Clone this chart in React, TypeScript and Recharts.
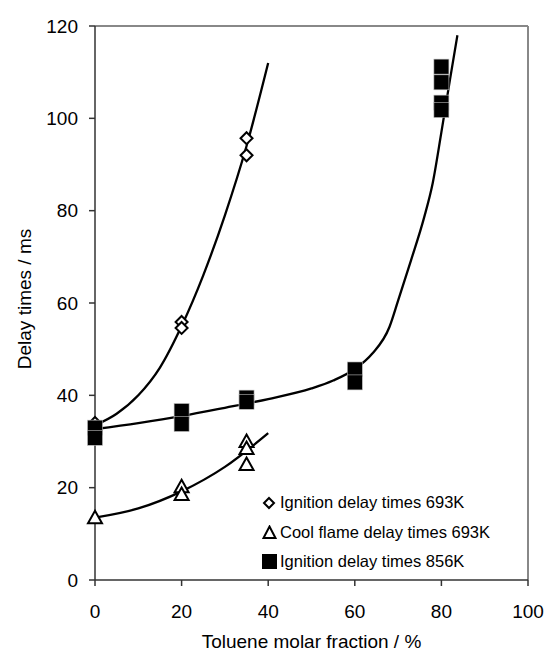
import React from "react";
import { ComposedChart, Line, Scatter, XAxis, YAxis, ReferenceLine, Label } from "recharts";

const xTicks = [0, 20, 40, 60, 80, 100];
const yTicks = [0, 20, 40, 60, 80, 100, 120];

// measured points
const ign693X = [0, 20, 20, 35, 35];
const ign693Y = [34, 55.9, 54.6, 95.7, 92];
const cool693X = [0, 20, 20, 35, 35, 35];
const cool693Y = [13.5, 20.2, 18.5, 30, 28.5, 25];
const ign856X = [0, 0, 20, 20, 35, 35, 60, 60, 80, 80, 80, 80];
const ign856Y = [33, 30.8, 36.6, 33.8, 39.5, 38.6, 45.6, 42.8, 111.2, 107.8, 103.4, 101.8];

// trend curves
const ign693TrendX = [0, 5, 10, 15, 20, 25, 30, 35, 40];
const ign693TrendY = [33.5, 36, 40, 46, 55, 66, 79, 94, 112];
const cool693TrendX = [0, 10, 20, 30, 40];
const cool693TrendY = [13.5, 15.5, 19.2, 24.5, 31.8];
const ign856TrendX = [0, 10, 20, 30, 40, 50, 55, 60, 64, 68, 70, 73, 76, 78, 80, 82, 83.7];
const ign856TrendY = [32.7, 34, 35.5, 37.3, 39.2, 41.5, 43.2, 45.7, 49, 54.8, 60.5, 69.3, 78.5, 86, 97, 108.5, 118];

const legendNames = ["Ignition delay times 693K", "Cool flame delay times 693K", "Ignition delay times 856K"];

const zip = (xs: number[], ys: number[]) => xs.map((x, i) => ({ x, y: ys[i] }));

const FONT = "'Liberation Sans', Arial, sans-serif";

const Diamond = (props: any) => {
  const { cx, cy } = props;
  const r = 6;
  return <path d={`M${cx},${cy - r}L${cx + r},${cy}L${cx},${cy + r}L${cx - r},${cy}Z`} fill="#fff" stroke="#000" strokeWidth={2} />;
};

const Triangle = (props: any) => {
  const { cx, cy } = props;
  return <path d={`M${cx},${cy - 7}L${cx + 7},${cy + 5.5}L${cx - 7},${cy + 5.5}Z`} fill="#fff" stroke="#000" strokeWidth={2} />;
};

const Square = (props: any) => {
  const { cx, cy } = props;
  return <rect x={cx - 7.5} y={cy - 7.5} width={15} height={15} fill="#000" stroke="#bbb" strokeWidth={0.6} />;
};

const legendIcons = [
  <svg width={14} height={14} key="d"><path d="M7,2L12,7L7,12L2,7Z" fill="#fff" stroke="#000" strokeWidth={2} /></svg>,
  <svg width={15} height={15} key="t"><path d="M7.5,1.5L13.5,13L1.5,13Z" fill="#fff" stroke="#000" strokeWidth={2} /></svg>,
  <svg width={15} height={15} key="s"><rect x={0} y={0} width={15} height={15} fill="#000" /></svg>,
];

export default function App() {
  return (
    <div style={{ position: "absolute", left: 0, top: 0, width: 546, height: 652, background: "#fff" }}>
      <ComposedChart width={546} height={652} margin={{ top: 26, right: 18, bottom: 0, left: 0 }}>
        <XAxis
          type="number"
          dataKey="x"
          domain={[0, 100]}
          ticks={xTicks}
          height={72}
          tickSize={6}
          tickMargin={19}
          stroke="#333"
          strokeWidth={1.5}
          tick={{ fill: "#000", fontSize: 19, fontFamily: FONT }}
        >
          <Label value="Toluene molar fraction / %" position="insideBottom" offset={4} fill="#000" fontSize={19} fontFamily={FONT} />
        </XAxis>
        <YAxis
          type="number"
          dataKey="y"
          domain={[0, 120]}
          ticks={yTicks}
          width={95}
          tickSize={6}
          tickMargin={11}
          stroke="#333"
          strokeWidth={1.5}
          tick={{ fill: "#000", fontSize: 19, fontFamily: FONT }}
        >
          <Label
            content={(p: any) => {
              const { x, y, height } = p.viewBox;
              const cx = x + 24;
              const cy = y + height / 2 - 4;
              return (
                <text x={cx} y={cy} transform={`rotate(-90, ${cx}, ${cy})`} textAnchor="middle" dy="0.355em" fill="#000" fontSize={19} fontFamily={FONT}>
                  Delay times / ms
                </text>
              );
            }}
          />
        </YAxis>
        <ReferenceLine y={120} stroke="#888" strokeWidth={2} />
        <ReferenceLine x={100} stroke="#888" strokeWidth={2} />
        <Line data={zip(ign693TrendX, ign693TrendY)} dataKey="y" type="monotone" stroke="#000" strokeWidth={2.3} dot={false} isAnimationActive={false} legendType="none" />
        <Line data={zip(cool693TrendX, cool693TrendY)} dataKey="y" type="monotone" stroke="#000" strokeWidth={2.3} dot={false} isAnimationActive={false} legendType="none" />
        <Line data={zip(ign856TrendX, ign856TrendY)} dataKey="y" type="monotone" stroke="#000" strokeWidth={2.3} dot={false} isAnimationActive={false} legendType="none" />
        <Scatter name={legendNames[0]} data={zip(ign693X, ign693Y)} shape={Diamond} isAnimationActive={false} />
        <Scatter name={legendNames[1]} data={zip(cool693X, cool693Y)} shape={Triangle} isAnimationActive={false} />
        <Scatter name={legendNames[2]} data={zip(ign856X, ign856Y)} shape={Square} isAnimationActive={false} />
      </ComposedChart>
      <div style={{ position: "absolute", left: 262, top: 488, fontFamily: FONT, fontSize: 16.5, color: "#000" }}>
        {legendNames.map((name, i) => (
          <div key={name} style={{ display: "flex", alignItems: "center", height: 29.5, whiteSpace: "nowrap" }}>
            <span style={{ width: 18, display: "inline-flex" }}>{legendIcons[i]}</span>
            <span>{name}</span>
          </div>
        ))}
      </div>
    </div>
  );
}
